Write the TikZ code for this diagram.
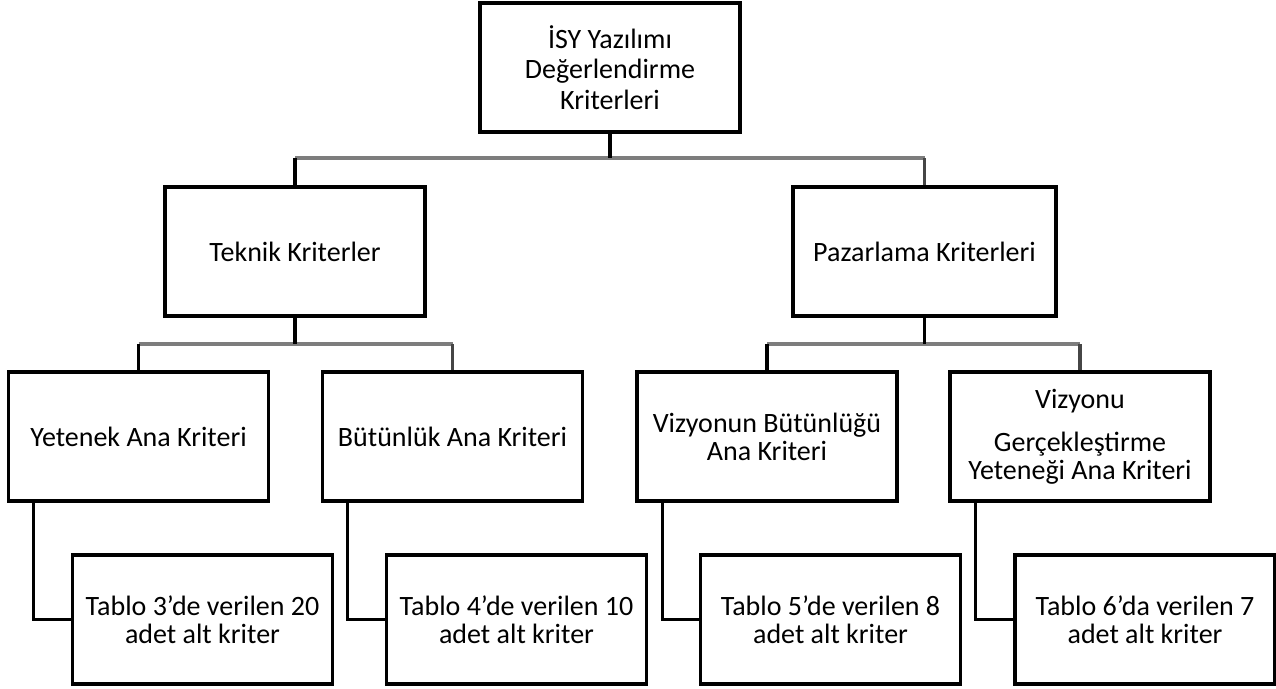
\documentclass[tikz,border=0pt]{standalone}
\usepackage{fontspec}
\setmainfont{Carlito}
\usepackage{xcolor}
\usepackage{tikz}
\usetikzlibrary{positioning, calc}
\definecolor{busgray}{RGB}{125, 125, 125}
\definecolor{dropgray}{RGB}{70, 70, 70}

\begin{document}
\begin{tikzpicture}[x=0.75pt, y=-0.75pt,
        crit/.style={draw, line width=2.7pt, minimum width=260*0.75pt, minimum height=129*0.75pt, inner sep=2pt, align=center, font=\fontsize{21}{21}\selectfont},
        stem/.style={line width=2.5pt},
        bus/.style={draw=busgray, line width=2.4pt}]
        \useasboundingbox (0,0) rectangle (1276,688);

        % Root
        \node[crit] (root) at (610, 67.5) {İSY Yazılımı\\[2pt]Değerlendirme\\[2pt]Kriterleri};

        % Main groups
        \node[crit] (teknik) at (295, 251.5) {Teknik Kriterler};
        \node[crit, minimum width=263*0.75pt] (pazar) at (924.5, 251.5) {Pazarlama Kriterleri};

        % Main criteria
        \node[crit] (yetenek) at (138.5, 436.5) {Yetenek Ana Kriteri};
        \node[crit] (butun) at (452.5, 436.5) {Bütünlük Ana Kriteri};
        \node[crit] (vizbut) at (767, 436.5) {Vizyonun Bütünlüğü\\Ana Kriteri};
        \node[crit] (vizger) at (1080, 436.5) {Vizyonu\\[11pt]Gerçekleştirme\\Yeteneği Ana Kriteri};

        % Sub criteria
        \node[crit] (tablo3) at (202.5, 619.5) {Tablo 3’de verilen 20\\adet alt kriter};
        \node[crit] (tablo4) at (516.5, 619.5) {Tablo 4’de verilen 10\\adet alt kriter};
        \node[crit] (tablo5) at (830.5, 619.5) {Tablo 5’de verilen 8\\adet alt kriter};
        \node[crit] (tablo6) at (1145, 619.5) {Tablo 6’da verilen 7\\adet alt kriter};

        % Bus lines
        \coordinate (b0) at (610, 158);
        \coordinate (b1) at (295, 344);
        \coordinate (b2) at (924.5, 344);

        \draw[bus] (teknik.north |- b0) -- (pazar.north |- b0);
        \draw[stem] (root.south) -- (b0);
        \draw[stem] (teknik.north |- b0) -- (teknik.north);
        \draw[stem, dropgray] (pazar.north |- b0) -- (pazar.north);

        \draw[bus] (yetenek.north |- b1) -- (butun.north |- b1);
        \draw[stem] (teknik.south) -- (b1);
        \draw[stem] (yetenek.north |- b1) -- (yetenek.north);
        \draw[stem, dropgray] (butun.north |- b1) -- (butun.north);

        \draw[bus] (vizbut.north |- b2) -- (vizger.north |- b2);
        \draw[stem] (pazar.south) -- (b2);
        \draw[stem] (vizbut.north |- b2) -- (vizbut.north);
        \draw[stem, dropgray] (vizger.north |- b2) -- (vizger.north);

        % Elbows to sub criteria
        \draw[stem] ([xshift=27*0.75pt]yetenek.south west) |- (tablo3.west);
        \draw[stem] ([xshift=27*0.75pt]butun.south west) |- (tablo4.west);
        \draw[stem] ([xshift=27*0.75pt]vizbut.south west) |- (tablo5.west);
        \draw[stem] ([xshift=27*0.75pt]vizger.south west) |- (tablo6.west);

    \end{tikzpicture}
\end{document}
